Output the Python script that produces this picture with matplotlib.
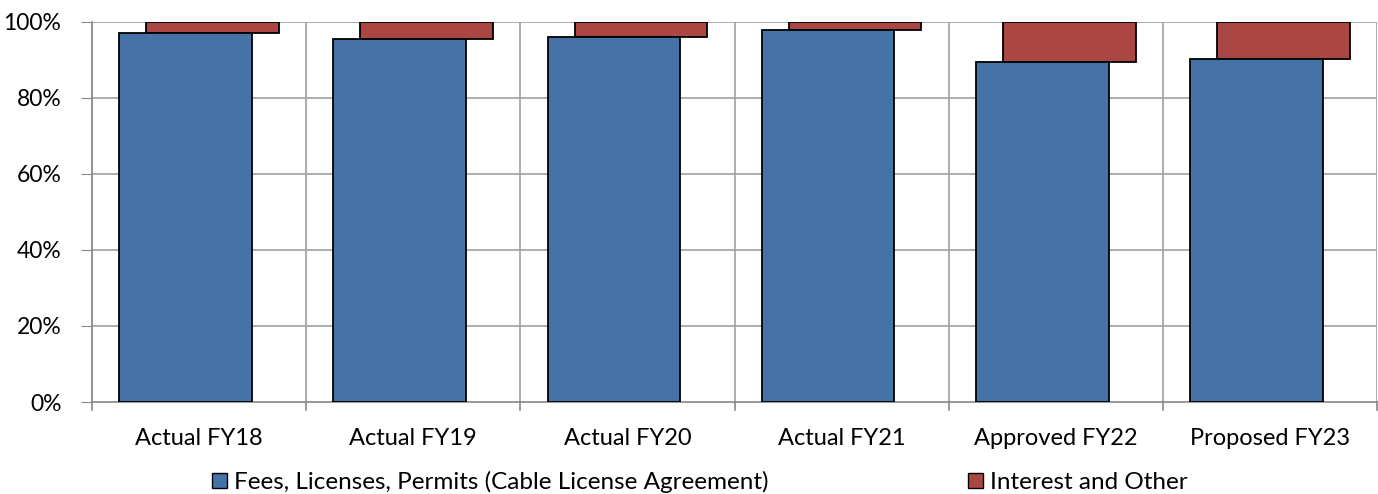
import matplotlib
matplotlib.use("Agg")
import matplotlib.pyplot as plt
from matplotlib.patches import Patch
import numpy as np

categories = ["Actual FY18", "Actual FY19", "Actual FY20", "Actual FY21", "Approved FY22", "Proposed FY23"]
fees = [97.2, 95.4, 96.1, 98.0, 89.6, 90.2]
interest = [100 - v for v in fees]
series_names = ["Fees, Licenses, Permits (Cable License Agreement)", "Interest and Other"]
yticks = [0, 20, 40, 60, 80, 100]

plt.rcParams['font.family'] = ['Lato', 'DejaVu Sans']

blue = "#4572A7"
red = "#AA4643"

fig = plt.figure(figsize=(13.78, 4.94), dpi=100)
ax = fig.add_axes([92/1378, 92/494, 1285/1378, 380/494])

x = np.arange(len(categories))
w = 0.62
off = 0.063
ax.bar(x - off, fees, width=w, color=blue, edgecolor="black", linewidth=1.3, zorder=3)
ax.bar(x + off, interest, width=w, bottom=fees, color=red, edgecolor="black", linewidth=1.3, zorder=2)

ax.set_xlim(-0.5, len(categories) - 0.5)
ax.set_ylim(0, 100)
ax.set_yticks(yticks)
ax.set_yticklabels([f"{v}%" for v in yticks], fontsize=16.5)
ax.set_xticks(x)
ax.set_xticklabels(categories, fontsize=17)
ax.tick_params(axis='x', length=0, pad=19)
ax.tick_params(axis='y', length=8, color="#888888", pad=14)

# gridlines
for v in yticks[1:]:
    ax.axhline(v, color="#A0A0A0", linewidth=1.2, zorder=1)
bounds = np.arange(-0.5, len(categories), 1.0)
for b in bounds:
    ax.axvline(b, color="#A0A0A0", linewidth=1.2, zorder=1)
    ax.plot([b, b], [0, -2.2], color="#888888", linewidth=1.2, clip_on=False)

for s in ["top", "right"]:
    ax.spines[s].set_visible(False)
ax.spines["left"].set_color("#888888")
ax.spines["bottom"].set_color("#888888")
ax.spines["left"].set_linewidth(1.2)
ax.spines["bottom"].set_linewidth(1.2)

handles = [Patch(facecolor=blue, edgecolor="black"), Patch(facecolor=red, edgecolor="black")]
fig.legend(handles, series_names, loc="center", bbox_to_anchor=(0.508, 1 - 482/494),
           ncol=2, frameon=False, fontsize=17.5, handlelength=0.6, handleheight=0.6,
           handletextpad=0.3, columnspacing=8.2)

fig.savefig("out.png", dpi=100)
